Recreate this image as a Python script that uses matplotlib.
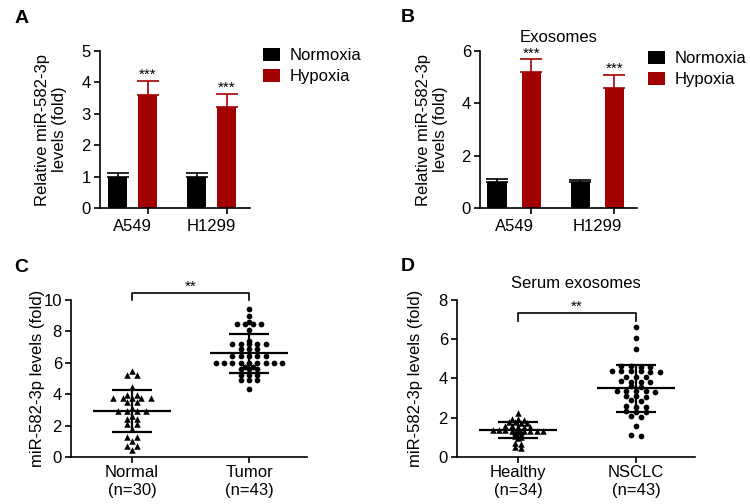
import matplotlib
matplotlib.use('Agg')
import matplotlib.pyplot as plt
import numpy as np

plt.rcParams['font.family'] = ['Liberation Sans', 'DejaVu Sans']
plt.rcParams['font.size'] = 12

# ---- data ----
cell_lines = ['A549', 'H1299']
legend_labels = ['Normoxia', 'Hypoxia']

a_normoxia = [1.0, 1.0]
a_normoxia_err = [0.13, 0.11]
a_hypoxia = [3.6, 3.23]
a_hypoxia_err = [0.44, 0.39]

b_normoxia = [1.0, 1.0]
b_normoxia_err = [0.11, 0.08]
b_hypoxia = [5.21, 4.57]
b_hypoxia_err = [0.47, 0.51]

normal_vals = [5.5, 5.2, 5.2, 4.45, 3.95, 3.95, 3.75, 3.75, 3.75, 3.75, 3.75,
               3.5, 3.5, 3.1, 2.9, 2.9, 2.9, 2.9, 2.6, 2.4, 2.4, 2.1, 2.1,
               1.8, 1.3, 1.3, 1.0, 0.7, 0.7, 0.45]
tumor_vals = [9.4, 9.0, 8.62, 8.5, 8.5, 8.5, 8.5, 8.1, 7.4,
              7.18, 7.18, 7.18, 7.18, 7.18, 6.86, 6.86, 6.86,
              6.4, 6.4, 6.4, 6.4, 6.4, 6.0, 6.0, 6.0, 6.0, 6.0, 6.0, 6.0, 6.0, 6.0,
              5.75, 5.75, 5.6, 5.6, 5.6, 5.2, 5.2, 5.2, 4.9, 4.9, 4.9, 4.3]
healthy_vals = [2.25, 1.95, 1.95, 1.9, 1.8, 1.8, 1.75, 1.75,
                1.6, 1.6, 1.55, 1.55, 1.55, 1.5,
                1.35, 1.35, 1.35, 1.3, 1.3, 1.3, 1.3, 1.3, 1.3, 1.25, 1.25,
                1.15, 1.1, 1.05, 1.0, 0.95, 0.72, 0.68, 0.5, 0.45]
nsclc_vals = [6.62, 6.08, 5.52, 4.62, 4.62, 4.6, 4.6,
              4.38, 4.38, 4.36, 4.36, 4.35, 4.35, 4.1, 4.08, 4.06,
              3.85, 3.84, 3.84, 3.82, 3.6, 3.58,
              3.36, 3.35, 3.34, 3.34, 3.32, 3.12, 3.1, 3.08, 2.88, 2.84,
              2.58, 2.56, 2.54, 2.32, 2.3, 2.28, 2.08, 2.06, 1.6, 1.1, 1.08]

c_labels = ['Normal\n(n=30)', 'Tumor\n(n=43)']
c_means = [2.95, 6.6]
c_sds = [1.33, 1.24]
d_labels = ['Healthy\n(n=34)', 'NSCLC\n(n=43)']
d_means = [1.38, 3.5]
d_sds = [0.4, 1.2]

RED = '#A30000'


def style_axes(ax):
    for s in ['top', 'right']:
        ax.spines[s].set_visible(False)
    for s in ['left', 'bottom']:
        ax.spines[s].set_linewidth(1.2)
    ax.tick_params(axis='y', direction='out', length=4, width=1.2, pad=2.5, labelsize=12)


def bar_panel(ax, normoxia, normoxia_err, hypoxia, hypoxia_err, off, width, ymax, ystep, xlim):
    x = np.arange(len(cell_lines))
    ekw = dict(capsize=8, elinewidth=1.2, capthick=1.2)
    b1 = ax.bar(x - off, normoxia, width, color='black', label=legend_labels[0],
                yerr=[np.zeros(len(x)), normoxia_err], error_kw=dict(ecolor='black', **ekw))
    b2 = ax.bar(x + off, hypoxia, width, color=RED, label=legend_labels[1],
                yerr=[np.zeros(len(x)), hypoxia_err], error_kw=dict(ecolor=RED, **ekw))
    for xi, h, e in zip(x + off, hypoxia, hypoxia_err):
        ax.annotate('***', (xi, h + e), xytext=(0, 1.5), textcoords='offset points',
                    ha='center', va='baseline', fontsize=11, annotation_clip=False)
    ax.set_xlim(*xlim)
    ax.set_ylim(0, ymax)
    ax.set_yticks(np.arange(0, ymax + 0.01, ystep))
    ax.set_xticks(x)
    ax.set_xticklabels(cell_lines, fontsize=12)
    ax.tick_params(axis='x', which='major', length=0, pad=8)
    ax.set_xticks(x + off, minor=True)
    ax.tick_params(axis='x', which='minor', length=4, width=1.2)
    style_axes(ax)
    return b1, b2


def row_offsets(vals, h, step):
    v = np.sort(np.asarray(vals, dtype=float))[::-1]
    offs = np.zeros(len(v))
    start = 0
    while start < len(v):
        end = start
        while end + 1 < len(v) and v[start] - v[end + 1] <= h:
            end += 1
        k = end - start + 1
        offs[start:end + 1] = (np.arange(k) - (k - 1) / 2) * step
        start = end + 1
    return v, offs


def scatter_panel(ax, groups, markers, steps, means, sds, labels, ymax, ystep, xlim):
    for i, (vals, m, st) in enumerate(zip(groups, markers, steps)):
        v, offs = row_offsets(vals, 0.06, st)
        size = 22 if m == '^' else 17
        ax.scatter(i + offs, v, marker=m, s=size, color='black', linewidths=0, zorder=3)
        ax.hlines(means[i], i - 0.33, i + 0.33, color='black', lw=1.6, zorder=4)
        ax.hlines([means[i] - sds[i], means[i] + sds[i]], i - 0.17, i + 0.17,
                  color='black', lw=1.6, zorder=4)
        ax.vlines(i, means[i] - sds[i], means[i] + sds[i], color='black', lw=1.6, zorder=4)
    ax.set_xlim(*xlim)
    ax.set_ylim(0, ymax)
    ax.set_yticks(np.arange(0, ymax + 0.01, ystep))
    ax.set_xticks(range(len(labels)))
    ax.set_xticklabels(labels, fontsize=12, linespacing=1.2)
    ax.tick_params(axis='x', length=4, width=1.2, pad=2)
    style_axes(ax)


def sig_bar(ax, y, drop, text):
    ax.plot([0, 0, 1, 1], [y - drop, y, y, y - drop], color='black', lw=1.2, clip_on=False)
    ax.annotate(text, (0.5, y), xytext=(0, 1.5), textcoords='offset points',
                ha='center', va='baseline', fontsize=11, annotation_clip=False)


fig = plt.figure(figsize=(7.5, 5.04), dpi=100)

# A
ax_a = fig.add_axes([0.1333, 0.5873, 0.2, 0.3115])
bar_panel(ax_a, a_normoxia, a_normoxia_err, a_hypoxia, a_hypoxia_err,
          0.19, 0.247, 5, 1, (-0.414, 1.487))
ax_a.set_ylabel('Relative miR-582-3p\nlevels (fold)', fontsize=12, linespacing=1.15)
ax_a.yaxis.set_label_coords(-0.22, 0.5)
ax_a.legend(loc='upper left', bbox_to_anchor=(1.087, 1.02), frameon=False, fontsize=12,
            handlelength=1.0, handleheight=0.8, handletextpad=0.6, labelspacing=0.35,
            borderaxespad=0, borderpad=0)

# B
ax_b = fig.add_axes([0.64, 0.5873, 0.2093, 0.3115])
bar_panel(ax_b, b_normoxia, b_normoxia_err, b_hypoxia, b_hypoxia_err,
          0.205, 0.232, 6, 2, (-0.411, 1.476))
ax_b.set_ylabel('Relative miR-582-3p\nlevels (fold)', fontsize=12, linespacing=1.15)
ax_b.yaxis.set_label_coords(-0.204, 0.5)
ax_b.text(0.5, 1.083, 'Exosomes', transform=ax_b.transAxes, ha='center', va='center', fontsize=12)
ax_b.legend(loc='upper left', bbox_to_anchor=(1.07, 1.0), frameon=False, fontsize=12,
            handlelength=1.0, handleheight=0.8, handletextpad=0.6, labelspacing=0.35,
            borderaxespad=0, borderpad=0)

# C
ax_c = fig.add_axes([0.0947, 0.0933, 0.3147, 0.3115])
scatter_panel(ax_c, [normal_vals, tumor_vals], ['^', 'o'], [0.081, 0.071],
              c_means, c_sds, c_labels, 10, 2, (-0.521, 1.496))
ax_c.set_ylabel('miR-582-3p levels (fold)', fontsize=12)
ax_c.yaxis.set_label_coords(-0.11, 0.5)
sig_bar(ax_c, 10.45, 0.45, '**')

# D
ax_d = fig.add_axes([0.6093, 0.0933, 0.3173, 0.3115])
scatter_panel(ax_d, [healthy_vals, nsclc_vals], ['^', 'o'], [0.053, 0.082],
              d_means, d_sds, d_labels, 8, 2, (-0.517, 1.5))
ax_d.set_ylabel('miR-582-3p levels (fold)', fontsize=12)
ax_d.yaxis.set_label_coords(-0.143, 0.5)
ax_d.text(0.5, 1.108, 'Serum exosomes', transform=ax_d.transAxes, ha='center', va='center', fontsize=12)
sig_bar(ax_d, 7.35, 0.41, '**')

# panel letters
for x, y, t in [(0.029, 0.964, 'A'), (0.544, 0.966, 'B'), (0.028, 0.47, 'C'), (0.543, 0.472, 'D')]:
    fig.text(x, y, t, fontsize=14, fontweight='bold', ha='center', va='center')

fig.savefig('out.png', dpi=100)
